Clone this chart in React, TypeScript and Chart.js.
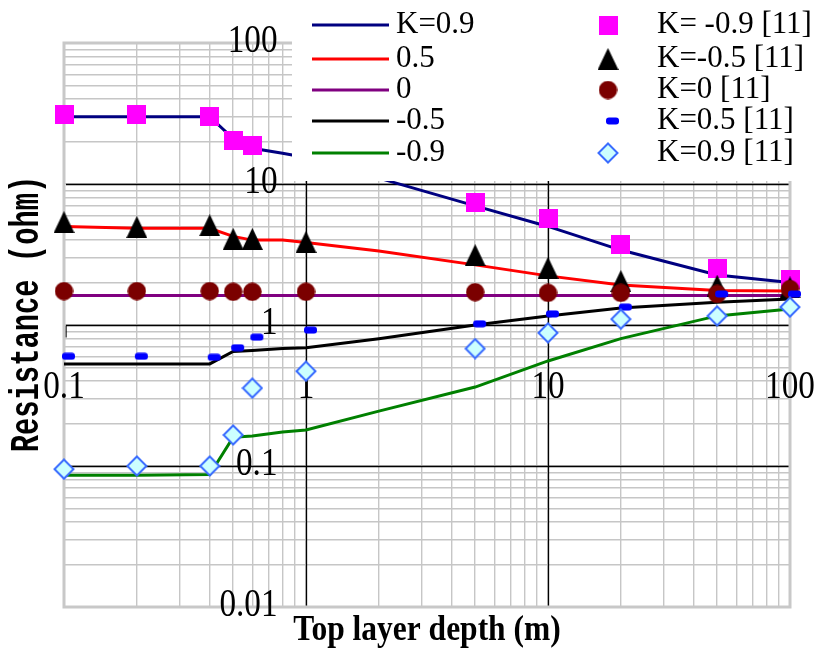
import React, { useEffect, useRef } from "react";
import { Chart, registerables } from "chart.js";

Chart.register(...registerables);

// ---- data ----
const modelDepths = [0.1, 0.2, 0.4, 0.5, 0.6, 0.8, 1, 2, 5, 10, 20, 50, 100];
const modelK09 = [30, 30, 30, 21, 17.9, 16.5, 15.4, 11, 7.0, 5.0, 3.4, 2.26, 2.0];
const modelK05 = [5.0, 4.85, 4.85, 4.25, 4.0, 4.0, 3.85, 3.35, 2.67, 2.23, 1.92, 1.76, 1.74];
const modelK0 = [1.62, 1.62, 1.62, 1.62, 1.62, 1.62, 1.62, 1.62, 1.62, 1.62, 1.62, 1.62, 1.62];
const modelKm05 = [0.53, 0.53, 0.53, 0.65, 0.66, 0.68, 0.69, 0.8, 1.0, 1.16, 1.32, 1.45, 1.53];
const modelKm09 = [0.086, 0.086, 0.087, 0.16, 0.163, 0.174, 0.18, 0.245, 0.363, 0.556, 0.8, 1.16, 1.3];

const refDepths = [0.1, 0.2, 0.4, 0.5, 0.6, 1, 5, 10, 20, 50, 100];
const refKm09 = [31, 31, 30, 20.3, 18.7, 15, 7.4, 5.7, 3.7, 2.5, 2.1];
const refKm05 = [5.37, 4.95, 5.1, 4.08, 4.08, 3.88, 3.13, 2.54, 2.05, 1.9, 1.85];
const refK0 = [1.74, 1.74, 1.74, 1.72, 1.72, 1.72, 1.71, 1.69, 1.69, 1.66, 1.8];
const refK05 = [0.6, 0.6, 0.59, 0.69, 0.82, 0.92, 1.02, 1.2, 1.34, 1.66, 1.66];
const refK09 = [0.095, 0.1, 0.1, 0.166, 0.357, 0.47, 0.68, 0.88, 1.1, 1.16, 1.34];

const lineLabels = ["K=0.9", "0.5", "0", "-0.5", "-0.9"];
const markLabels = ["K= -0.9 [11]", "K=-0.5 [11]", "K=0 [11]", "K=0.5 [11]", "K=0.9 [11]"];

const xTickValues = [0.1, 1, 10, 100];
const xTickLabels = ["0.1", "1", "10", "100"];
const yTickValues = [0.01, 0.1, 1, 10, 100];
const yTickLabels = ["0.01", "0.1", "1", "10", "100"];
const blackXValues = [1, 10];
const blackYValues = [0.1, 1, 10];

const xTitle = "Top layer depth (m)";
const yTitle = "Resistance (ohm)";

function logGrid(min: number, max: number) {
  const out: number[] = [];
  for (let d = min; d < max * 0.999; d *= 10) {
    for (let m = 1; m <= 9; m++) out.push(+(m * d).toPrecision(6));
  }
  out.push(max);
  return out;
}

function mk(w: number, h: number, draw: (g: CanvasRenderingContext2D) => void) {
  const c = document.createElement("canvas");
  c.width = w;
  c.height = h;
  draw(c.getContext("2d")!);
  return c;
}

function scaledText(
  ctx: CanvasRenderingContext2D,
  text: string,
  x: number,
  y: number,
  font: string,
  align: CanvasTextAlign,
  sx: number,
  rot = 0
) {
  ctx.save();
  ctx.translate(x, y);
  if (rot) ctx.rotate(rot);
  ctx.scale(sx, 1);
  ctx.font = font;
  ctx.textAlign = align;
  ctx.textBaseline = "middle";
  ctx.fillStyle = "#000";
  ctx.fillText(text, 0, 0);
  ctx.restore();
}

export default function App() {
  const ref = useRef<HTMLCanvasElement>(null);

  useEffect(() => {
    const canvas = ref.current!;
    const square = mk(19, 19, (g) => {
      g.fillStyle = "#ff00ff";
      g.fillRect(0, 0, 19, 19);
    });
    const triangle = mk(21, 22, (g) => {
      g.fillStyle = "#000";
      g.beginPath();
      g.moveTo(10.5, 0);
      g.lineTo(21, 22);
      g.lineTo(0, 22);
      g.closePath();
      g.fill();
    });
    const circle = mk(19, 19, (g) => {
      g.fillStyle = "#7b0000";
      g.beginPath();
      g.arc(9.5, 9.5, 9.2, 0, Math.PI * 2);
      g.fill();
    });
    const dash = mk(24, 8, (g) => {
      g.fillStyle = "#0000ff";
      g.beginPath();
      if ((g as any).roundRect) (g as any).roundRect(10, 0.5, 13, 7, 3);
      else g.rect(10, 0.5, 13, 7);
      g.fill();
    });
    const diamond = mk(22, 22, (g) => {
      g.beginPath();
      g.moveTo(11, 1.5);
      g.lineTo(20.5, 11);
      g.lineTo(11, 20.5);
      g.lineTo(1.5, 11);
      g.closePath();
      g.fillStyle = "#ccffff";
      g.fill();
      g.strokeStyle = "#3a6cff";
      g.lineWidth = 2;
      g.stroke();
    });

    const lineColors = ["#000080", "#ff0000", "#800080", "#000000", "#008000"];
    const markStyles = [square, triangle, circle, dash, diamond];

    const modelSeries = [modelK09, modelK05, modelK0, modelKm05, modelKm09];
    const refSeries = [refKm09, refKm05, refK0, refK05, refK09];

    const datasets: any[] = [];
    modelSeries.forEach((s, i) => {
      datasets.push({
        label: lineLabels[i],
        data: modelDepths.map((x, j) => ({ x, y: s[j] })),
        showLine: true,
        borderColor: lineColors[i],
        backgroundColor: lineColors[i],
        borderWidth: 3,
        pointRadius: 0,
        pointHoverRadius: 0,
        tension: 0,
        order: 10 - i,
        clip: false,
      });
    });
    refSeries.forEach((s, i) => {
      datasets.push({
        label: markLabels[i],
        data: refDepths.map((x, j) => ({ x, y: s[j] })),
        showLine: false,
        pointStyle: markStyles[i],
        pointRadius: 9,
        pointHoverRadius: 9,
        borderColor: "rgba(0,0,0,0)",
        backgroundColor: "rgba(0,0,0,0)",
        order: 5 - i,
        clip: false,
      });
    });

    const deco = {
      id: "deco",
      beforeDatasetsDraw(chart: any) {
        const { ctx, chartArea: a, scales } = chart;
        const xs = scales.x;
        const ys = scales.y;
        ctx.save();
        // black major lines
        ctx.strokeStyle = "#000";
        ctx.lineWidth = 1.3;
        ctx.beginPath();
        blackYValues.forEach((v) => {
          const yy = Math.round(ys.getPixelForValue(v)) + 0.5;
          ctx.moveTo(a.left + 2, yy);
          ctx.lineTo(a.right, yy);
        });
        blackXValues.forEach((v) => {
          const xx = Math.round(xs.getPixelForValue(v)) + 0.5;
          ctx.moveTo(xx, a.top);
          ctx.lineTo(xx, a.bottom);
        });
        // small axis end ticks
        const y1 = Math.round(ys.getPixelForValue(1)) + 0.5;
        const x1 = Math.round(xs.getPixelForValue(1)) + 0.5;
        ctx.moveTo(a.left + 2, y1);
        ctx.lineTo(a.left + 2, y1 + 12);
        ctx.moveTo(a.right, y1);
        ctx.lineTo(a.right, y1 + 14);
        ctx.moveTo(x1, a.bottom);
        ctx.lineTo(x1 - 9, a.bottom);
        ctx.stroke();
        // frame
        ctx.strokeStyle = "#c8c8c8";
        ctx.lineWidth = 3;
        ctx.strokeRect(a.left, a.top, a.right - a.left, a.bottom - a.top);
        // tick labels
        const tickFont = '40px "Liberation Serif"';
        yTickValues.forEach((v, i) => {
          scaledText(ctx, yTickLabels[i], x1 - 29, ys.getPixelForValue(v) - 1.5, tickFont, "right", 0.83);
        });
        xTickValues.forEach((v, i) => {
          scaledText(ctx, xTickLabels[i], xs.getPixelForValue(v), y1 + 62, tickFont, "center", 0.83);
        });
        ctx.restore();
      },
      afterDatasetsDraw(chart: any) {
        const { ctx, chartArea: a } = chart;
        ctx.save();
        // legend box
        ctx.fillStyle = "#fff";
        ctx.fillRect(292, 0, 824 - 292, 181);
        const rows = [25, 59, 90, 121, 153];
        const legFont = '31px "Liberation Serif"';
        rows.forEach((ry, i) => {
          ctx.strokeStyle = lineColors[i];
          ctx.lineWidth = 3;
          ctx.beginPath();
          ctx.moveTo(312, ry);
          ctx.lineTo(389, ry);
          ctx.stroke();
          scaledText(ctx, lineLabels[i], 396, ry, legFont, "left", 1);
          const m = markStyles[i];
          ctx.drawImage(m, 608 - m.width / 2, ry - m.height / 2);
          scaledText(ctx, markLabels[i], 657, ry, legFont, "left", 1);
        });
        // titles
        scaledText(ctx, xTitle, (a.left + a.right) / 2, 631, 'bold 35px "Liberation Serif"', "center", 0.9);
        scaledText(ctx, yTitle, 28, 314, 'bold 40px "Liberation Mono"', "center", 0.72, -Math.PI / 2);
        ctx.restore();
      },
    };

    const xGrid = logGrid(0.1, 100);
    const yGrid = logGrid(0.01, 100);

    const chart = new Chart(canvas, {
      type: "scatter",
      data: { datasets },
      options: {
        responsive: false,
        animation: false,
        events: [],
        layout: { padding: { left: 64, right: 34, top: 43, bottom: 50 } },
        plugins: { legend: { display: false }, tooltip: { enabled: false } },
        scales: {
          x: {
            type: "logarithmic",
            min: 0.1,
            max: 100,
            ticks: { display: false },
            title: { display: false },
            border: { display: false },
            grid: { color: "#c6c6c6", lineWidth: 1.4, drawTicks: false },
            afterBuildTicks: (s: any) => {
              s.ticks = xGrid.map((v) => ({ value: v }));
            },
          },
          y: {
            type: "logarithmic",
            min: 0.01,
            max: 100,
            ticks: { display: false },
            title: { display: false },
            border: { display: false },
            grid: { color: "#c6c6c6", lineWidth: 1.4, drawTicks: false },
            afterBuildTicks: (s: any) => {
              s.ticks = yGrid.map((v) => ({ value: v }));
            },
          },
        },
      } as any,
      plugins: [deco],
    });
    return () => chart.destroy();
  }, []);

  return (
    <div style={{ position: "absolute", left: 0, top: 0, width: 824, height: 657, background: "#fff" }}>
      <canvas ref={ref} width={824} height={657} style={{ display: "block" }} />
    </div>
  );
}
